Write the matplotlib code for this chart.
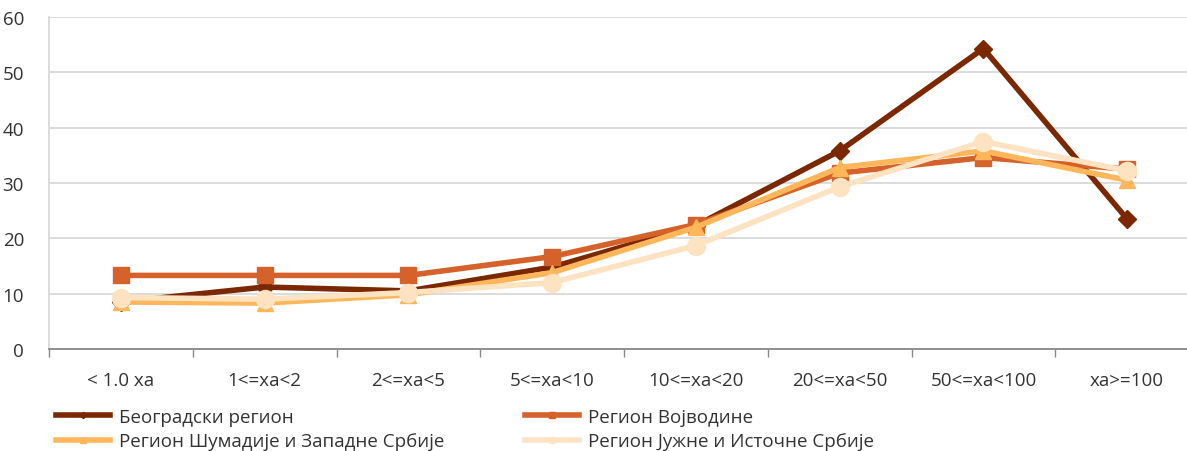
import matplotlib.pyplot as plt
import numpy as np

categories = ['< 1.0 ха', '1<=ха<2', '2<=ха<5', '5<=ха<10', '10<=ха<20',
              '20<=ха<50', '50<=ха<100', 'ха>=100']

beograd = [8.5, 11.2, 10.5, 14.8, 22.3, 35.8, 54.3, 23.5]
vojvodina = [13.3, 13.3, 13.3, 16.7, 22.5, 31.8, 34.6, 32.5]
sumadija = [8.5, 8.3, 9.8, 13.8, 22.0, 32.8, 35.8, 30.5]
jug_istok = [9.3, 9.0, 10.2, 12.0, 18.7, 29.3, 37.5, 32.2]

series = [
    ('Београдски регион', beograd, '#7B2800', 'D', 9),
    ('Регион Војводине', vojvodina, '#D5622A', 's', 12),
    ('Регион Шумадије и Западне Србије', sumadija, '#FDB65A', '^', 12),
    ('Регион Јужне и Источне Србије', jug_istok, '#FDE3C2', 'o', 13),
]

plt.rcParams['font.family'] = ['Open Sans', 'DejaVu Sans']
fs = 13.5

fig = plt.figure(figsize=(11.87, 4.52), dpi=100)
ax = fig.add_axes([49 / 1187, 102 / 452, 1150 / 1187, 332 / 452])

x = np.arange(len(categories))
handles = []
for label, vals, color, marker, ms in series:
    h, = ax.plot(x, vals, color=color, linewidth=4, marker=marker, markersize=ms,
                 label=label, solid_joinstyle='miter')
    handles.append(h)

ax.set_xlim(-0.5, len(categories) - 0.5)
ax.set_ylim(0, 60)
ax.set_yticks(range(0, 61, 10))
ax.yaxis.grid(True, color='#D9D9D9', linewidth=1.3)
ax.set_axisbelow(True)

ax.set_xticks(np.arange(-0.5, len(categories), 1.0))
ax.set_xticklabels([])
ax.set_xticks(x, minor=True)
ax.set_xticklabels(categories, minor=True)
ax.tick_params(axis='x', which='major', length=6, color='#888888', width=1)
ax.tick_params(axis='x', which='minor', length=0, pad=16, labelsize=fs, labelcolor='#333333')
ax.tick_params(axis='y', length=0, pad=18, labelsize=fs, labelcolor='#333333')

for side in ['top', 'right']:
    ax.spines[side].set_visible(False)
ax.spines['left'].set_color('#D9D9D9')
ax.spines['left'].set_linewidth(1.3)
ax.spines['bottom'].set_color('#888888')
ax.spines['bottom'].set_linewidth(1.3)

# legend fills column by column: reorder so rows read left to right
order = [0, 2, 1, 3]
leg = fig.legend([handles[i] for i in order], [series[i][0] for i in order],
                 loc='upper left', bbox_to_anchor=(39 / 1187, 1 - 392 / 452), ncol=2,
                 frameon=False, fontsize=fs, markerscale=0.35, handlelength=2.9,
                 handletextpad=0.45, columnspacing=4.3, labelspacing=0.34)
for t in leg.get_texts():
    t.set_color('#333333')

fig.savefig('out.png', dpi=100)
